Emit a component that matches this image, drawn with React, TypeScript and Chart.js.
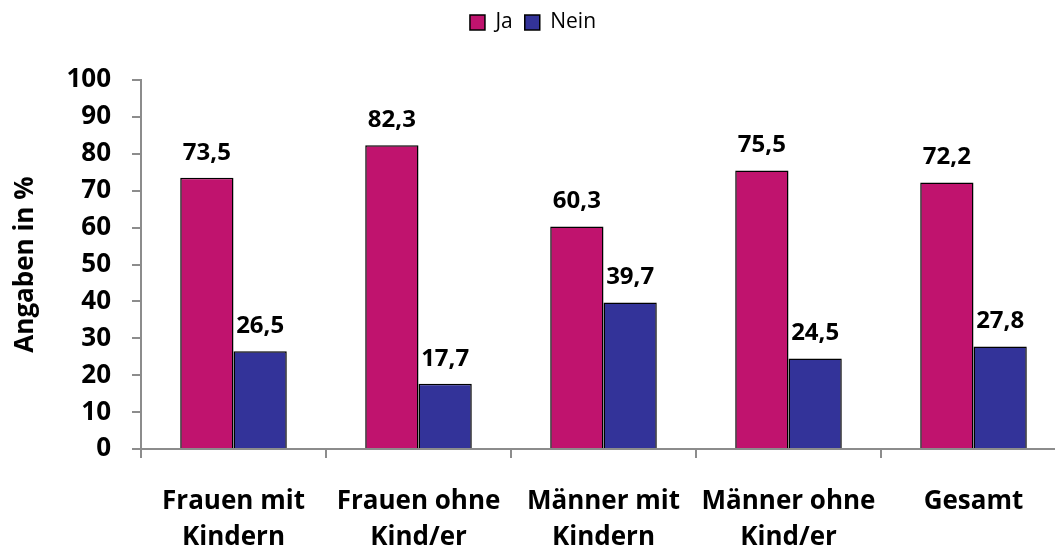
import React, { useEffect, useRef } from "react";
import { Chart, registerables } from "chart.js";

Chart.register(...registerables);

const categories: string[][] = [
  ["Frauen mit", "Kindern"],
  ["Frauen ohne", "Kind/er"],
  ["Männer mit", "Kindern"],
  ["Männer ohne", "Kind/er"],
  ["Gesamt"],
];
const jaValues = [73.5, 82.3, 60.3, 75.5, 72.2];
const neinValues = [26.5, 17.7, 39.7, 24.5, 27.8];
const seriesNames = ["Ja", "Nein"];
const yTitle = "Angaben in %";

const FONT = "'Open Sans', Lato, sans-serif";

const labelPlugin = {
  id: "valueLabels",
  afterDatasetsDraw(chart: any) {
    const ctx = chart.ctx;
    ctx.save();
    ctx.font = `bold 24px ${FONT}`;
    ctx.fillStyle = "#000";
    ctx.textAlign = "center";
    ctx.textBaseline = "middle";
    chart.data.datasets.forEach((ds: any, i: number) => {
      const meta = chart.getDatasetMeta(i);
      meta.data.forEach((bar: any, j: number) => {
        const v = ds.data[j] as number;
        ctx.fillText(v.toFixed(1).replace(".", ","), bar.x, bar.y - 25);
      });
    });
    ctx.restore();
  },
};

const legendHeightPlugin = {
  id: "legendHeight",
  beforeInit(chart: any) {
    const legend = chart.legend;
    if (!legend) return;
    const orig = legend.fit;
    legend.fit = function () {
      orig.call(this);
      this.height = 80;
    };
  },
};

export default function App() {
  const ref = useRef<HTMLCanvasElement>(null);
  useEffect(() => {
    if (!ref.current) return;
    const chart = new Chart(ref.current, {
      type: "bar",
      data: {
        labels: categories,
        datasets: [
          {
            label: seriesNames[0],
            data: jaValues,
            backgroundColor: "#C0136E",
            borderColor: "#000",
            borderWidth: 1.5,
            categoryPercentage: 0.576,
            barPercentage: 1,
          },
          {
            label: seriesNames[1],
            data: neinValues,
            backgroundColor: "#333399",
            borderColor: "#000",
            borderWidth: 1.5,
            categoryPercentage: 0.576,
            barPercentage: 1,
          },
        ],
      },
      options: {
        responsive: false,
        animation: false,
        layout: { padding: { left: 0, right: 4, top: 0, bottom: 0 } },
        plugins: {
          legend: {
            position: "top",
            labels: {
              boxWidth: 15,
              boxHeight: 15,
              padding: 12,
              color: "#000",
              font: { family: FONT, size: 21 },
            },
          },
          tooltip: { enabled: false },
        },
        scales: {
          x: {
            grid: {
              display: true,
              drawOnChartArea: false,
              drawTicks: true,
              tickLength: 9,
              color: "#8c8c8c",
              lineWidth: 2,
              offset: true,
            },
            border: { color: "#8c8c8c", width: 2 },
            ticks: {
              color: "#000",
              font: { family: FONT, size: 26, weight: "bold", lineHeight: 1.4 },
              padding: 25,
              maxRotation: 0,
              autoSkip: false,
            },
            afterFit(scale: any) {
              scale.height = 102;
            },
          },
          y: {
            min: 0,
            max: 100,
            ticks: {
              stepSize: 10,
              color: "#000",
              font: { family: FONT, size: 26, weight: "bold" },
              padding: 21,
            },
            grid: {
              display: true,
              drawOnChartArea: false,
              drawTicks: true,
              tickLength: 9,
              color: "#8c8c8c",
              lineWidth: 2,
            },
            border: { color: "#8c8c8c", width: 2 },
            title: {
              display: true,
              text: yTitle,
              color: "#000",
              font: { family: FONT, size: 26, weight: "bold" },
              padding: { top: 10, bottom: 0 },
            },
            afterFit(scale: any) {
              scale.width = 141;
            },
          },
        },
      },
      plugins: [labelPlugin, legendHeightPlugin],
    });
    return () => chart.destroy();
  }, []);

  return (
    <div
      style={{
        position: "absolute",
        left: 0,
        top: 0,
        width: 1055,
        height: 551,
        overflow: "hidden",
        background: "#fff",
      }}
    >
      <canvas ref={ref} width={1070} height={551} style={{ display: "block" }} />
    </div>
  );
}
